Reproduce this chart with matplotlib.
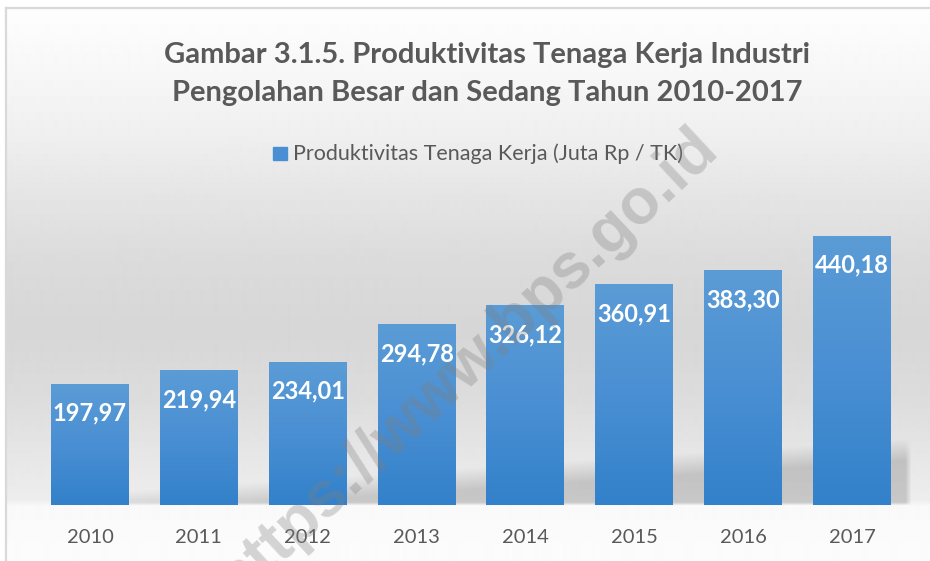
import numpy as np
import matplotlib.pyplot as plt
from matplotlib.colors import LinearSegmentedColormap
from matplotlib.patches import Rectangle
from matplotlib.lines import Line2D

years = ["2010", "2011", "2012", "2013", "2014", "2015", "2016", "2017"]
produktivitas = [197.97, 219.94, 234.01, 294.78, 326.12, 360.91, 383.30, 440.18]
title_1 = "Gambar 3.1.5. Produktivitas Tenaga Kerja Industri"
title_2 = "Pengolahan Besar dan Sedang Tahun 2010-2017"
legend_label = "Produktivitas Tenaga Kerja (Juta Rp / TK)"

W, H = 930, 561
font = "Lato"
grey_txt = "#595959"

fig = plt.figure(figsize=(W / 100, H / 100), dpi=100)

# background: soft vertical grey gradient plus the floor shadow behind the bars
X, Y = np.meshgrid(np.arange(W), np.arange(H))
stop_y = [8, 20, 70, 140, 200, 260, 330, 400, 450, 500, 506, 561]
stop_v = [0.99, 0.99, 0.97, 0.935, 0.895, 0.86, 0.84, 0.865, 0.90, 0.93, 0.978, 0.988]
bg = np.interp(Y.astype(float), stop_y, stop_v)
yt = 495 - (X - 60) / 850 * 57
shade = (np.clip((Y - yt) / 22, 0, 1) * np.clip((505 - Y) / 3, 0, 1)
         * np.clip((X - 60) / 40, 0, 1) * np.clip((910 - X) / 6, 0, 1))
bg = bg - 0.15 * shade
bg[(X < 6) | (Y < 8)] = 1.0

ax_bg = fig.add_axes([0, 0, 1, 1], zorder=-1)
ax_bg.imshow(bg, cmap="gray", vmin=0, vmax=1, extent=(0, W, H, 0),
             aspect="auto", interpolation="bilinear")
ax_bg.set_xlim(0, W)
ax_bg.set_ylim(H, 0)
ax_bg.axis("off")
ax_bg.add_line(Line2D([6, 6], [8, H], color="#d9d9d9", lw=1.6))
ax_bg.add_line(Line2D([6, W], [8, 8], color="#d9d9d9", lw=1.6))

# legend (drawn by hand to sit centred under the title)
ax_bg.add_patch(Rectangle((273, 147), 14, 13, color="#4a8fd3"))
ax_bg.text(293, 153.5, legend_label, ha="left", va="center", fontsize=15.5,
           color=grey_txt, family=font)

fig.text(487 / W, 1 - 55 / H, title_1, ha="center", va="center", fontsize=21,
         fontweight="bold", color=grey_txt, family=font)
fig.text(487 / W, 1 - 93 / H, title_2, ha="center", va="center", fontsize=21,
         fontweight="bold", color=grey_txt, family=font)

ax = fig.add_axes([35.5 / W, 56 / H, 871 / W, 305.5 / H])
ax.patch.set_alpha(0)
x = np.arange(len(years))
bw = 0.716
bars = ax.bar(x, produktivitas, width=bw, color="none")

cmap = LinearSegmentedColormap.from_list("bar", ["#3281ca", "#4a8fd3", "#5b9cd6"])
grad = np.linspace(0, 1, 256).reshape(-1, 1)
for b in bars:
    x0 = b.get_x()
    ax.imshow(grad, cmap=cmap, origin="lower", aspect="auto",
              extent=(x0, x0 + bw, 0, b.get_height()), zorder=2)

for i, v in enumerate(produktivitas):
    ax.annotate(f"{v:.2f}".replace(".", ","), (i, v), xytext=(0, -21),
                textcoords="offset points", ha="center", va="center",
                color="white", fontsize=17, fontweight="bold", family=font,
                zorder=3)

ax.set_xlim(-0.5, len(years) - 0.5)
ax.set_ylim(0, 500)
ax.set_xticks(x)
ax.set_xticklabels(years, fontsize=14.5, color=grey_txt, family=font)
ax.tick_params(axis="x", length=0, pad=17)
ax.set_yticks([])
for s in ax.spines.values():
    s.set_visible(False)

# watermark
fig.text(467 / W, 1 - 364 / H, "https://www.bps.go.id", rotation=43,
         rotation_mode="anchor", ha="center", va="center", fontsize=46,
         fontweight="bold", color="#7f7f7f", alpha=0.32,
         family="Liberation Sans", zorder=10)

plt.savefig("out.png", dpi=100)
